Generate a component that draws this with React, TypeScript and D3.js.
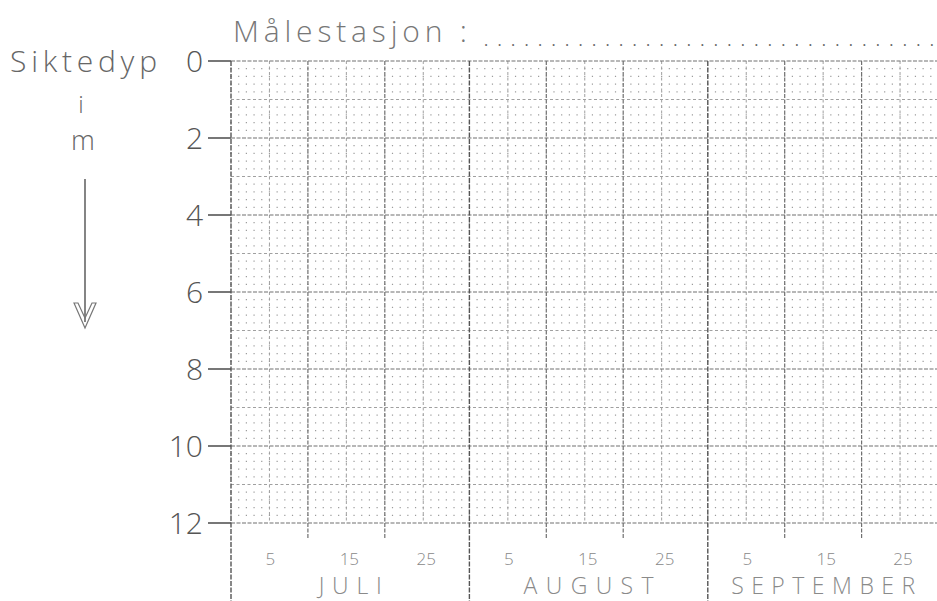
import React, { useEffect, useRef } from 'react';
import * as d3 from 'd3';

// form values
const depthTicks = [0, 2, 4, 6, 8, 10, 12];
const months = ['JULI', 'AUGUST', 'SEPTEMBER'];
const monthDays = [31, 31, 30];
const dayTicks = [5, 15, 25];
const monthLabelWidths = [63, 130, 184];

const WIDTH = 937;
const HEIGHT = 601;
const FONT = '"Open Sans", "DejaVu Sans", sans-serif';

const App = () => {
  const svgRef = useRef<SVGSVGElement | null>(null);

  useEffect(() => {
    if (!svgRef.current) return;
    const svg = d3.select(svgRef.current);
    svg.selectAll('*').remove();

    const totalDays = d3.sum(monthDays);
    const monthStarts = monthDays.map((_, i) => d3.sum(monthDays.slice(0, i)));

    const x = d3.scaleLinear().domain([0, totalDays]).range([231, 938.5]);
    const y = d3.scaleLinear().domain([0, 12]).range([61, 523]);
    const dayPx = x(1) - x(0);

    svg.append('rect').attr('width', WIDTH).attr('height', HEIGHT).attr('fill', '#fff');

    const grid = svg.append('g').attr('class', 'grid');

    // dotted rows every 0.2 m (dots land on each day)
    const minorRows = d3.range(1, 60).filter(i => i % 5 !== 0).map(i => i / 5);
    grid.selectAll('.minor')
      .data(minorRows)
      .enter()
      .append('line')
      .attr('x1', x(0) - 0.6)
      .attr('x2', x(totalDays))
      .attr('y1', d => y(d))
      .attr('y2', d => y(d))
      .attr('stroke', '#9c9c9c')
      .attr('stroke-width', 1.2)
      .attr('stroke-dasharray', `1.2 ${dayPx - 1.2}`);

    // 1 m lines
    const midRows = [1, 3, 5, 7, 9, 11];
    grid.selectAll('.mid-h')
      .data(midRows)
      .enter()
      .append('line')
      .attr('x1', x(0))
      .attr('x2', x(totalDays))
      .attr('y1', d => y(d))
      .attr('y2', d => y(d))
      .attr('stroke', '#a0a0a0')
      .attr('stroke-width', 1)
      .attr('stroke-dasharray', '3 2.5');

    // 5-day lines
    const midCols = monthStarts.flatMap(s => dayTicks.map(d => s + d));
    grid.selectAll('.mid-v')
      .data(midCols)
      .enter()
      .append('line')
      .attr('x1', d => x(d))
      .attr('x2', d => x(d))
      .attr('y1', y(0))
      .attr('y2', y(12))
      .attr('stroke', '#a0a0a0')
      .attr('stroke-width', 1)
      .attr('stroke-dasharray', '3 2.5');

    // 2 m lines
    grid.selectAll('.major-h')
      .data(depthTicks)
      .enter()
      .append('line')
      .attr('x1', x(0))
      .attr('x2', x(totalDays))
      .attr('y1', d => y(d))
      .attr('y2', d => y(d))
      .attr('stroke', '#707070')
      .attr('stroke-width', 1.2)
      .attr('stroke-dasharray', '4 1.5');

    // 10 / 20 day lines, with a short stub below the grid
    const tenCols = monthStarts.flatMap(s => [s + 10, s + 20]);
    grid.selectAll('.major-v')
      .data(tenCols)
      .enter()
      .append('line')
      .attr('x1', d => x(d))
      .attr('x2', d => x(d))
      .attr('y1', y(0))
      .attr('y2', y(12) + 15)
      .attr('stroke', '#707070')
      .attr('stroke-width', 1.2)
      .attr('stroke-dasharray', '4 1.5');

    // month boundaries run down to the page edge
    grid.selectAll('.month-v')
      .data(monthStarts)
      .enter()
      .append('line')
      .attr('x1', d => x(d))
      .attr('x2', d => x(d))
      .attr('y1', y(0))
      .attr('y2', HEIGHT)
      .attr('stroke', '#555')
      .attr('stroke-width', 1.4)
      .attr('stroke-dasharray', '5 1.5');

    // depth axis
    const yAxis = svg.append('g');
    yAxis.selectAll('.tick-line')
      .data(depthTicks)
      .enter()
      .append('line')
      .attr('x1', 208)
      .attr('x2', x(0))
      .attr('y1', d => y(d))
      .attr('y2', d => y(d))
      .attr('stroke', '#555')
      .attr('stroke-width', 1.6);

    yAxis.selectAll('.tick-label')
      .data(depthTicks)
      .enter()
      .append('text')
      .attr('x', 203)
      .attr('y', d => y(d) + 11)
      .attr('text-anchor', 'end')
      .attr('font-family', FONT)
      .attr('font-size', 30)
      .attr('font-weight', 300)
      .attr('fill', '#555')
      .text(d => d);

    // day labels and month names
    const xLabels = svg.append('g');
    xLabels.selectAll('.day-label')
      .data(monthStarts.flatMap(s => dayTicks.map(d => ({ pos: s + d, label: d }))))
      .enter()
      .append('text')
      .attr('x', d => x(d.pos) + (d.label > 9 ? 3 : 1))
      .attr('y', 565)
      .attr('text-anchor', 'middle')
      .attr('font-family', FONT)
      .attr('font-size', 17)
      .attr('font-weight', 300)
      .attr('fill', '#888')
      .text(d => d.label);

    xLabels.selectAll('.month-label')
      .data(months)
      .enter()
      .append('text')
      .attr('x', (d, i) => x(monthStarts[i] + monthDays[i] / 2) - monthLabelWidths[i] / 2)
      .attr('y', 594)
      .attr('font-family', FONT)
      .attr('font-size', 23)
      .attr('font-weight', 300)
      .attr('fill', '#8a8a8a')
      .attr('textLength', (d, i) => monthLabelWidths[i])
      .attr('lengthAdjust', 'spacing')
      .text(d => d);

    // header
    svg.append('text')
      .attr('x', 233)
      .attr('y', 42)
      .attr('font-family', FONT)
      .attr('font-size', 30)
      .attr('font-weight', 300)
      .attr('fill', '#777')
      .attr('textLength', 234)
      .attr('lengthAdjust', 'spacing')
      .text('Målestasjon :');

    svg.append('text')
      .attr('x', 484)
      .attr('y', 46)
      .attr('font-family', FONT)
      .attr('font-size', 16)
      .attr('fill', '#666')
      .attr('textLength', 450)
      .attr('lengthAdjust', 'spacing')
      .text('.'.repeat(34));

    // axis title, stacked
    const title = svg.append('g').attr('fill', '#666').attr('font-family', FONT).attr('font-weight', 300);
    title.append('text')
      .attr('x', 10)
      .attr('y', 72)
      .attr('font-size', 30)
      .attr('textLength', 147)
      .attr('lengthAdjust', 'spacing')
      .text('Siktedyp');
    title.append('text')
      .attr('x', 81)
      .attr('y', 113)
      .attr('text-anchor', 'middle')
      .attr('font-size', 24)
      .text('i');
    title.append('text')
      .attr('x', 83)
      .attr('y', 150)
      .attr('text-anchor', 'middle')
      .attr('font-size', 27)
      .text('m');

    // down arrow
    title.append('line')
      .attr('x1', 85)
      .attr('x2', 85)
      .attr('y1', 179)
      .attr('y2', 322)
      .attr('stroke', '#666')
      .attr('stroke-width', 1.6);
    title.append('path')
      .attr('d', 'M74,303 L85,328 L96,303 L92,303 L85,318 L78,303 Z')
      .attr('fill', 'none')
      .attr('stroke', '#777')
      .attr('stroke-width', 1.2);
  }, []);

  return (
    <svg
      ref={svgRef}
      width={WIDTH}
      height={HEIGHT}
      style={{ position: 'absolute', left: 0, top: 0, display: 'block' }}
    />
  );
};

export default App;
